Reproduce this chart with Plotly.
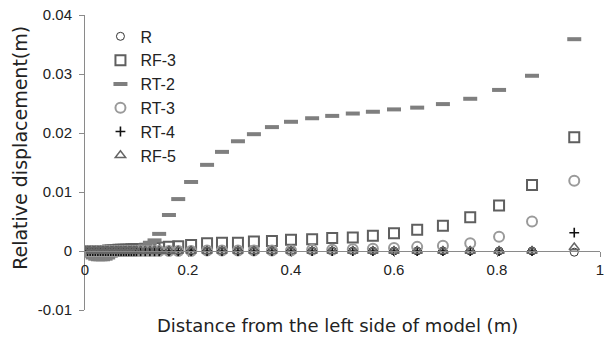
import plotly.graph_objects as go

# ---- data ----
X = [0, 0.005, 0.01, 0.015, 0.02, 0.025, 0.03, 0.035, 0.04, 0.045, 0.05,
     0.055, 0.06, 0.065, 0.07, 0.075, 0.08, 0.085, 0.09, 0.095, 0.1,
     0.108, 0.117, 0.126, 0.135, 0.144, 0.163,
     0.181, 0.206, 0.237, 0.266, 0.297, 0.328, 0.363, 0.400, 0.441, 0.480,
     0.520, 0.559, 0.600, 0.645, 0.695, 0.748, 0.804, 0.868, 0.950]

R = [0, 0, 0, 0, 0, 0, 0, 0, 0, 0, 0,
     0, 0, 0, 0, 0, 0, 0, 0, 0, 0,
     0, 0, 0, 0, 0, 0,
     0, 0, 0, 0, 0, 0, 0, 0, 0, 0,
     0, 0, 0, 0, 0, 0, 0, 0, -0.0002]

RF3 = [0, 0, 0, 0, 0, 0, 0, 0, 0, 0.0001, 0.0001,
       0.0001, 0.0001, 0.0002, 0.0002, 0.0002, 0.0002, 0.0002, 0.0003, 0.0003, 0.0003,
       0.0003, 0.0004, 0.0005, 0.0005, 0.0006, 0.0007,
       0.0008, 0.0010, 0.0013, 0.0014, 0.0014, 0.0016, 0.0017, 0.0019, 0.0020, 0.0022,
       0.0023, 0.0026, 0.0030, 0.0036, 0.0043, 0.0057, 0.0077, 0.0112, 0.0193]

RT2 = [0, -0.0004, -0.0008, -0.0011, -0.0013, -0.0014, -0.0014, -0.0014, -0.0013, -0.0011, -0.0008,
       -0.0005, -0.0002, 0.0, 0.0001, 0.0001, 0.0001, 0.0002, 0.0002, 0.0003, 0.0004,
       0.0006, 0.0009, 0.0014, 0.0018, 0.0029, 0.0061,
       0.0088, 0.0117, 0.0146, 0.0168, 0.0186, 0.0198, 0.0210, 0.0219, 0.0225, 0.0229,
       0.0233, 0.0236, 0.0240, 0.0243, 0.0249, 0.0258, 0.0273, 0.0297, 0.0359]

RT3 = [0, 0, 0, 0, 0, 0, 0, 0, 0, 0, 0,
       0, 0, 0, 0, 0, 0, 0, 0, 0, 0,
       0, 0, 0, 0, 0, 0,
       0, 0, 0.0001, 0.0001, 0.0001, 0.0001, 0.0001, 0.0001, 0.0002, 0.0002,
       0.0003, 0.0004, 0.0005, 0.0007, 0.0009, 0.0013, 0.0024, 0.0050, 0.0119]

RT4 = [0, 0, 0, 0, 0, 0, 0, 0, 0, 0, 0,
       0, 0, 0, 0, 0, 0, 0, 0, 0, 0,
       0, 0, 0, 0, 0, 0,
       0, 0, 0, 0, 0, 0, 0, 0, 0, 0,
       0, 0, 0, 0, 0, 0, 0, 0, 0.0031]

RF5 = [0, 0, 0, 0, 0, 0, 0, 0, 0, 0, 0,
       0, 0, 0, 0, 0, 0, 0, 0, 0, 0,
       0, 0, 0, 0, 0, 0,
       0, 0, 0, 0, 0, 0, 0, 0, 0, 0,
       0, 0, 0, 0, 0, 0, 0, 0, 0.0006]

X_TICKS = [0, 0.2, 0.4, 0.6, 0.8, 1]
X_TICK_TEXT = ["0", "0.2", "0.4", "0.6", "0.8", "1"]
Y_TICKS = [-0.01, 0, 0.01, 0.02, 0.03, 0.04]
Y_TICK_TEXT = ["-0.01", "0", "0.01", "0.02", "0.03", "0.04"]

FONT = "Liberation Sans, Arial, sans-serif"
TITLE_FONT = "DejaVu Sans, sans-serif"
TXT = "#222222"
AXC = "#8a8a8a"

fig = go.Figure()

series = [
    ("R", R, dict(symbol="circle-open", size=8, color="#333333", line=dict(width=1, color="#333333"))),
    ("RF-3", RF3, dict(symbol="square-open", size=10, color="#5f5f5f", line=dict(width=2, color="#5f5f5f"))),
    ("RT-2", RT2, dict(symbol="line-ew", size=10, color="#7f7f7f", line=dict(width=4, color="#7f7f7f"))),
    ("RT-3", RT3, dict(symbol="circle-open", size=10, color="#9a9a9a", line=dict(width=2, color="#9a9a9a"))),
    ("RT-4", RT4, dict(symbol="cross-thin", size=7, color="#111111", line=dict(width=1.6, color="#111111"))),
    ("RF-5", RF5, dict(symbol="triangle-up-open", size=9, color="#666666", line=dict(width=1.5, color="#666666"))),
]

for name, ys, mk in series:
    fig.add_trace(go.Scatter(x=X, y=ys, mode="markers", name=name, marker=mk))

fig.update_layout(
    width=606, height=343,
    margin=dict(l=85, r=6, t=15, b=33),
    paper_bgcolor="white", plot_bgcolor="white",
    font=dict(family=FONT, color=TXT, size=14),
    showlegend=True,
    legend=dict(x=0.03, y=0.985, xanchor="left", yanchor="top",
                bgcolor="rgba(0,0,0,0)", font=dict(size=16, color=TXT),
                tracegroupgap=0, itemwidth=30),
    xaxis=dict(range=[0, 1], tickvals=X_TICKS, ticktext=X_TICK_TEXT, automargin=False,
               anchor="free", position=0.2, showline=True, linecolor=AXC, linewidth=1,
               ticks="outside", ticklen=5, tickcolor=AXC, showgrid=False, zeroline=False,
               tickfont=dict(size=15, color=TXT)),
    yaxis=dict(range=[-0.01, 0.04], tickvals=Y_TICKS, ticktext=Y_TICK_TEXT, automargin=False,
               domain=[0, 1], showline=True, linecolor=AXC, linewidth=1,
               ticks="outside", ticklen=5, tickcolor=AXC, showgrid=False, zeroline=False,
               tickfont=dict(size=15, color=TXT), ticklabelstandoff=4),
    annotations=[
        dict(text="Distance from the left side of model (m)", xref="paper", yref="paper",
             x=0.49, y=-0.051, xanchor="center", yanchor="middle", showarrow=False,
             font=dict(size=18, color=TXT, family=TITLE_FONT)),
        dict(text="Relative displacement(m)", xref="paper", yref="paper",
             x=-0.126, y=0.55, xanchor="center", yanchor="middle", showarrow=False,
             textangle=-90, font=dict(size=19, color=TXT, family=TITLE_FONT)),
    ],
)

fig.write_html("out.html", config={"displayModeBar": False},
               post_script="document.body.style.margin='0';")
